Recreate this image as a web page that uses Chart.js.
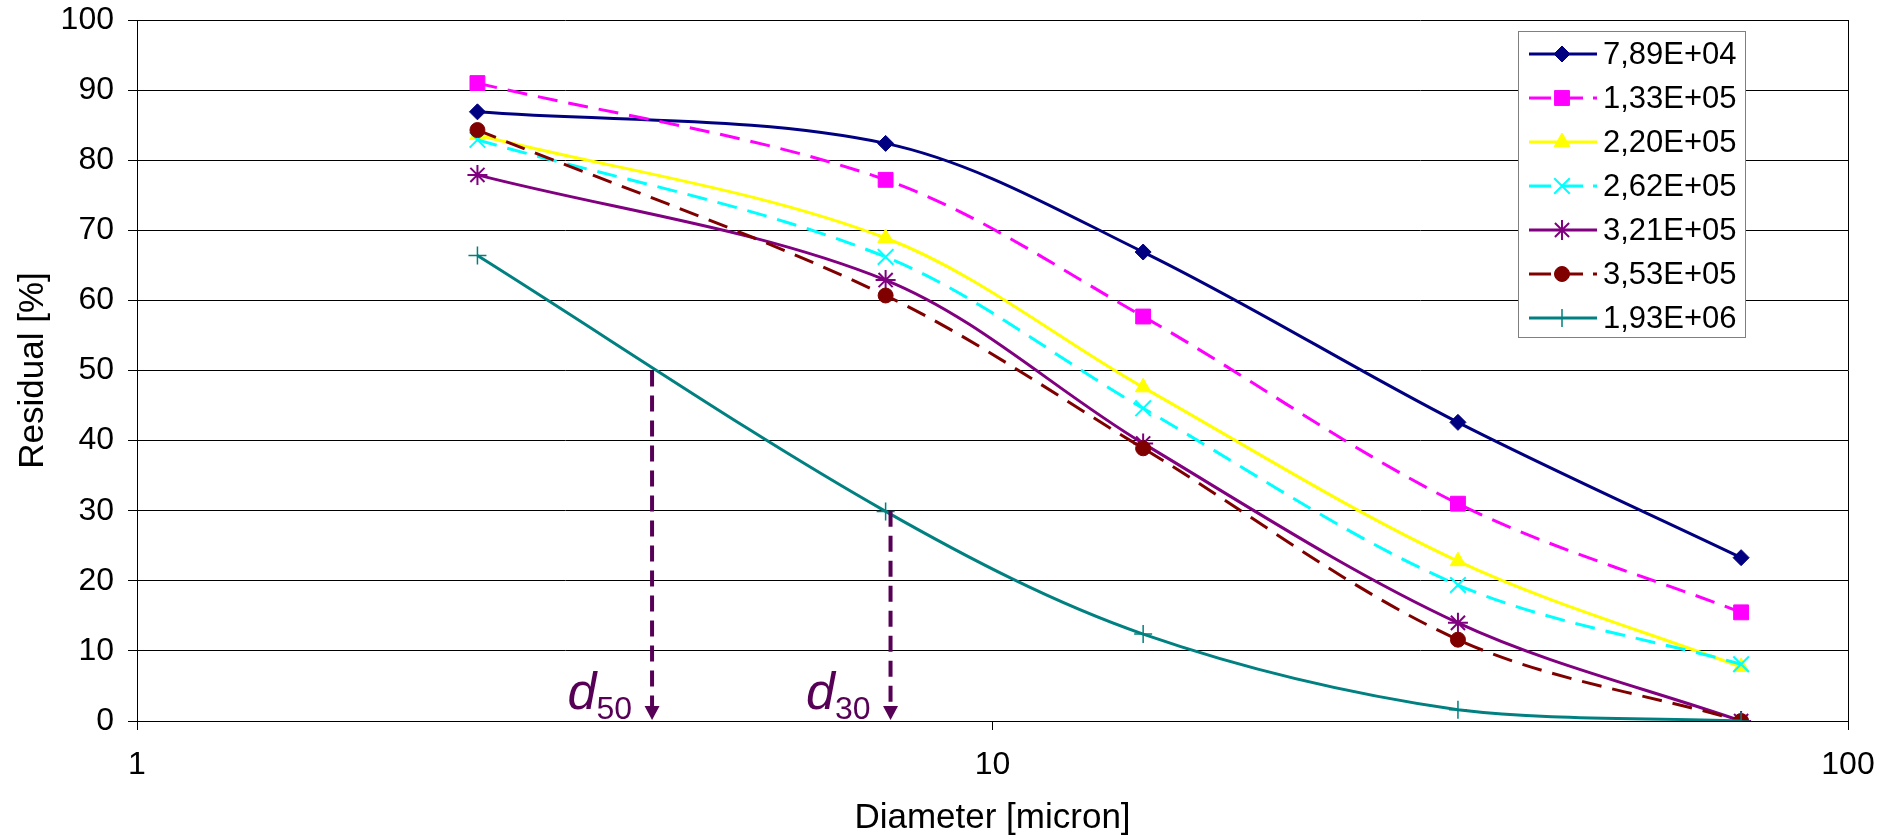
<!DOCTYPE html>
<html><head><meta charset="utf-8">
<script src="https://cdn.jsdelivr.net/npm/chart.js@4.4.1/dist/chart.umd.min.js"></script>
<style>html,body{margin:0;padding:0;background:#fff;} canvas{display:block;}</style>
</head><body>
<canvas id="c" width="1892" height="839"></canvas>
<script>
// ---- data ----
const diameters = [2.5, 7.5, 15, 35, 75];
const seriesNames = ['7,89E+04', '1,33E+05', '2,20E+05', '2,62E+05', '3,21E+05', '3,53E+05', '1,93E+06'];
const s789e4 = [86.9, 82.4, 66.9, 42.6, 23.3];
const s133e5 = [91.0, 77.2, 57.7, 31.0, 15.5];
const s220e5 = [83.6, 68.9, 47.6, 22.8, 7.7];
const s262e5 = [82.9, 66.2, 44.6, 19.4, 8.1];
const s321e5 = [77.9, 62.9, 39.6, 14.0, 0];
const s353e5 = [84.3, 60.7, 38.9, 11.6, 0];
const s193e6 = [66.4, 29.9, 12.4, 1.6, 0];
const xTicks = [1, 10, 100];
const yTicks = [0, 10, 20, 30, 40, 50, 60, 70, 80, 90, 100];
const arrowX = [4.0, 7.6];
const arrowTop = [50, 30];
const arrowSub = ['50', '30'];

// ---- styles ----
const FONT = "'Liberation Sans', Arial, sans-serif";
const styles = [
  {color: '#000080', dash: [], point: 'rectRot', r: 8, pbw: 1},
  {color: '#FF00FF', dash: [20, 11], point: 'rect', r: 10.5, pbw: 1},
  {color: '#FFFF00', dash: [], point: 'triangle', r: 9, pbw: 1},
  {color: '#00FFFF', dash: [20, 11], point: 'crossRot', r: 11, pbw: 2},
  {color: '#800080', dash: [], point: 'star', r: 10, pbw: 2},
  {color: '#800000', dash: [20, 11], point: 'circle', r: 7.5, pbw: 1},
  {color: '#008080', dash: [], point: 'cross', r: 9, pbw: 1.5}
];
const seriesValues = [s789e4, s133e5, s220e5, s262e5, s321e5, s353e5, s193e6];

const datasets = seriesValues.map((vals, i) => ({
  label: seriesNames[i],
  data: vals.map((v, j) => ({x: diameters[j], y: v})),
  borderColor: styles[i].color,
  backgroundColor: styles[i].color,
  borderWidth: 3,
  borderDash: styles[i].dash,
  pointStyle: styles[i].point,
  pointRadius: styles[i].r,
  pointBorderWidth: styles[i].pbw,
  pointBackgroundColor: styles[i].color,
  pointBorderColor: styles[i].color,
  tension: 0.33,
  order: 7 - i
}));

const arrowPlugin = {
  id: 'arrows',
  afterDatasetsDraw(chart) {
    const {ctx, scales} = chart;
    const col = '#560056';
    ctx.save();
    arrowX.forEach((xv, i) => {
      const xp = scales.x.getPixelForValue(xv);
      const yt = scales.y.getPixelForValue(arrowTop[i]);
      const yb = scales.y.getPixelForValue(0);
      const head = 15;
      ctx.strokeStyle = col;
      ctx.lineWidth = 4;
      ctx.setLineDash([16, 9]);
      ctx.beginPath();
      ctx.moveTo(xp, yt);
      ctx.lineTo(xp, yb - head);
      ctx.stroke();
      ctx.setLineDash([]);
      ctx.fillStyle = col;
      ctx.beginPath();
      ctx.moveTo(xp - 7.5, yb - head);
      ctx.lineTo(xp + 7.5, yb - head);
      ctx.lineTo(xp, yb - 1);
      ctx.closePath();
      ctx.fill();
      // label d_xx
      ctx.textBaseline = 'alphabetic';
      ctx.textAlign = 'right';
      ctx.font = '32px ' + FONT;
      const subRight = xp - 20;
      ctx.fillText(arrowSub[i], subRight, yb - 2);
      const sw = ctx.measureText(arrowSub[i]).width;
      ctx.font = 'italic 52px ' + FONT;
      ctx.fillText('d', subRight - sw, yb - 12);
    });
    ctx.restore();
  }
};

const legendPlugin = {
  id: 'boxLegend',
  afterDraw(chart) {
    const {ctx} = chart;
    const bx = 1518, by = 31, bw = 227, bh = 306;
    ctx.save();
    ctx.fillStyle = '#fff';
    ctx.fillRect(bx, by, bw, bh);
    ctx.strokeStyle = '#808080';
    ctx.lineWidth = 1;
    ctx.strokeRect(bx + 0.5, by + 0.5, bw, bh);
    seriesNames.forEach((name, i) => {
      const y = 54 + 44 * i;
      const st = styles[i];
      ctx.strokeStyle = st.color;
      ctx.lineWidth = 3;
      ctx.setLineDash(st.dash.length ? [22, 10] : []);
      ctx.beginPath();
      ctx.moveTo(1529, y);
      ctx.lineTo(1597, y);
      ctx.stroke();
      ctx.setLineDash([]);
      ctx.fillStyle = st.color;
      ctx.lineWidth = st.pbw;
      Chart.helpers.drawPoint(ctx, {pointStyle: st.point, radius: st.r, borderWidth: st.pbw, rotation: 0}, 1562, y);
      ctx.fillStyle = '#000';
      ctx.font = '31px ' + FONT;
      ctx.textAlign = 'left';
      ctx.textBaseline = 'middle';
      ctx.fillText(name, 1603, y + 1);
    });
    ctx.restore();
  }
};

new Chart(document.getElementById('c'), {
  type: 'line',
  data: {datasets},
  options: {
    responsive: false,
    animation: false,
    devicePixelRatio: 1,
    layout: {padding: {top: 20, right: 44, left: 0, bottom: 0}},
    plugins: {legend: {display: false}, tooltip: {enabled: false}},
    scales: {
      x: {
        type: 'logarithmic',
        min: 1, max: 100,
        afterBuildTicks(axis) { axis.ticks = xTicks.map(v => ({value: v})); },
        afterFit(s) { s.height = 118; s.paddingLeft = 0; s.paddingRight = 0; },
        ticks: {
          callback: (v) => String(v),
          color: '#000',
          font: {family: FONT, size: 32},
          padding: 16,
          maxRotation: 0,
          autoSkip: false
        },
        grid: {
          color: (c) => (c.tick && c.tick.value === 100 ? '#000' : 'rgba(0,0,0,0)'),
          tickColor: '#000',
          tickLength: 9,
          lineWidth: 1
        },
        border: {display: true, color: '#000', width: 1},
        title: {display: true, text: 'Diameter [micron]', color: '#000', font: {family: FONT, size: 35, lineHeight: 1.2}, padding: {top: 0, bottom: 0}}
      },
      y: {
        min: 0, max: 100,
        afterBuildTicks(axis) { axis.ticks = yTicks.map(v => ({value: v})); },
        afterFit(s) { s.width = 137; s.paddingTop = 0; s.paddingBottom = 0; },
        ticks: {color: '#000', font: {family: FONT, size: 32}, padding: 14},
        grid: {color: '#000', tickColor: '#000', tickLength: 9, lineWidth: 1},
        border: {display: true, color: '#000', width: 1},
        title: {display: true, text: 'Residual [%]', color: '#000', font: {family: FONT, size: 35, lineHeight: 1.2}, padding: {top: 12, bottom: 0}}
      }
    }
  },
  plugins: [arrowPlugin, legendPlugin]
});
</script>
</body></html>
